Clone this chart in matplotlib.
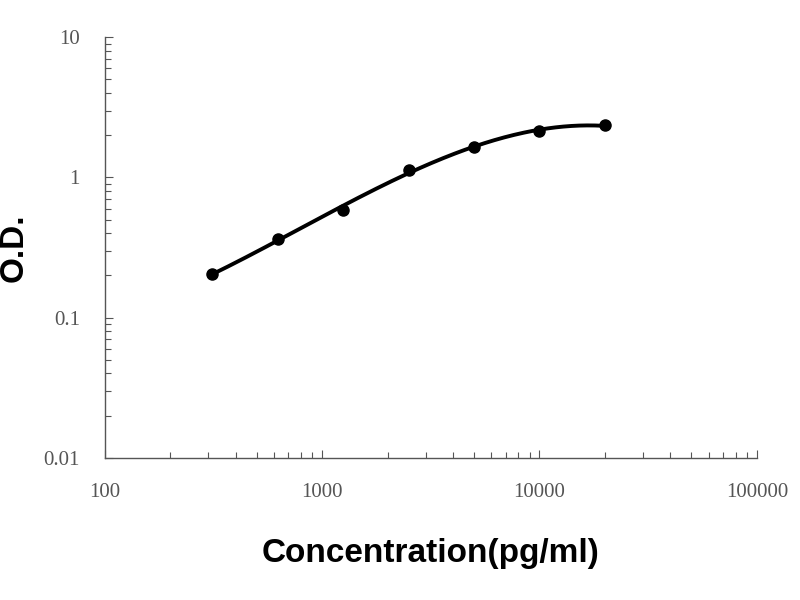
import numpy as np
from matplotlib import pyplot as plt
from matplotlib.ticker import LogLocator, FixedLocator, NullFormatter

# standard curve readings
conc = [312.5, 625, 1250, 2500, 5000, 10000, 20000]
od = [0.203, 0.365, 0.59, 1.13, 1.66, 2.14, 2.35]

x_ticks = [100, 1000, 10000, 100000]
x_tick_labels = ["100", "1000", "10000", "100000"]
y_ticks = [0.01, 0.1, 1, 10]
y_tick_labels = ["0.01", "0.1", "1", "10"]


def main():
    fig = plt.figure(figsize=(8, 6), dpi=100)
    ax = fig.add_axes([0.131, 0.237, 0.815, 0.701])

    # trend line: 3rd order polynomial in log-log space
    lx = np.log10(conc)
    ly = np.log10(od)
    coef = np.polyfit(lx, ly, 3)
    xs = np.linspace(lx[0], lx[-1], 200)
    ax.plot(10 ** xs, 10 ** np.polyval(coef, xs), color="black", lw=2.8, zorder=2)
    ax.plot(conc, od, "o", color="black", ms=8, zorder=3)

    ax.set_xscale("log")
    ax.set_yscale("log")
    ax.set_xlim(100, 100000)
    ax.set_ylim(0.01, 10)

    ax.xaxis.set_major_locator(FixedLocator(x_ticks))
    ax.set_xticklabels(x_tick_labels)
    ax.yaxis.set_major_locator(FixedLocator(y_ticks))
    ax.set_yticklabels(y_tick_labels)
    ax.xaxis.set_minor_locator(LogLocator(base=10, subs=np.arange(2, 10)))
    ax.yaxis.set_minor_locator(LogLocator(base=10, subs=np.arange(2, 10)))
    ax.xaxis.set_minor_formatter(NullFormatter())
    ax.yaxis.set_minor_formatter(NullFormatter())

    for side in ["top", "right"]:
        ax.spines[side].set_visible(False)
    for side in ["left", "bottom"]:
        ax.spines[side].set_color("#555555")
        ax.spines[side].set_linewidth(1.0)

    ax.tick_params(which="both", direction="in", color="#555555", width=0.8)
    ax.tick_params(which="major", length=6, labelsize=15, labelcolor="#555555", pad=18)
    ax.tick_params(which="minor", length=4)
    for lab in ax.get_xticklabels() + ax.get_yticklabels():
        lab.set_family("Liberation Serif")

    ax.set_xlabel("Concentration(pg/ml)", fontsize=24, fontweight="bold",
                  family="Liberation Sans")
    ax.set_ylabel("O.D.", fontsize=24, fontweight="bold",
                  family="Liberation Sans")
    ax.xaxis.set_label_coords(0.5, -0.19)
    ax.yaxis.set_label_coords(-0.115, 0.5)

    plt.savefig("out.png")
    plt.close()


if __name__ == "__main__":
    main()
